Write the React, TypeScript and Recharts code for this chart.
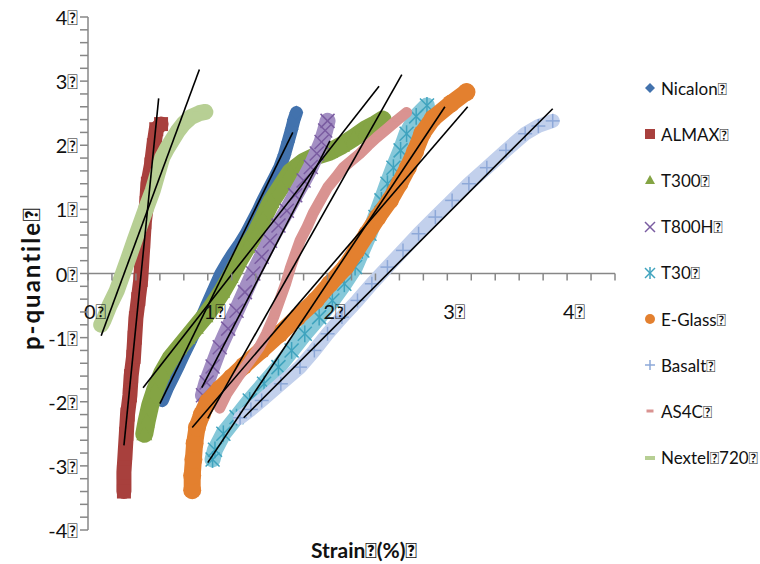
import React from 'react';
import { ScatterChart, Scatter, XAxis, YAxis, ReferenceLine } from 'recharts';

// chart box
const W = 760;
const H = 564;
const Y_AXIS_W = 40;
const X_AXIS_H = 30;
const M = { top: 17, right: 145, bottom: 4, left: 48 };
const PLOT_LEFT = M.left + Y_AXIS_W;
const PLOT_BOTTOM = H - M.bottom - X_AXIS_H;
const ZERO_Y = M.top + (PLOT_BOTTOM - M.top) / 2;
const AXIS = '#878787';
const FONT = 'Lato, "Open Sans", sans-serif';
const BOX = '\uF020';

type Pt = [number, number];

// series (strain %, p-quantile)
const nicalon: Pt[] = [
  [0.62, -1.98], [0.66, -1.8], [0.7, -1.65], [0.75, -1.46], [0.8, -1.26], [0.85, -1.07],
  [0.9, -0.87], [0.95, -0.68], [1.0, -0.46], [1.05, -0.25], [1.11, 0.0], [1.16, 0.16],
  [1.21, 0.31], [1.27, 0.47], [1.32, 0.62], [1.37, 0.8], [1.42, 0.98], [1.46, 1.14],
  [1.51, 1.32], [1.56, 1.5], [1.6, 1.65], [1.64, 1.85], [1.67, 2.05], [1.7, 2.25],
  [1.72, 2.4], [1.74, 2.51],
];
const almax: Pt[] = [
  [0.3, -3.4], [0.3, -3.1], [0.31, -2.8], [0.32, -2.5], [0.33, -2.2], [0.35, -1.9],
  [0.36, -1.6], [0.38, -1.3], [0.39, -1.0], [0.4, -0.7], [0.42, -0.4], [0.44, -0.1],
  [0.45, 0.2], [0.46, 0.5], [0.47, 0.8], [0.49, 1.1], [0.5, 1.4], [0.53, 1.7],
  [0.55, 2.0], [0.57, 2.25], [0.61, 2.33],
];
const t300: Pt[] = [
  [0.47, -2.5], [0.49, -2.3], [0.52, -2.05], [0.56, -1.82], [0.62, -1.55], [0.69, -1.32],
  [0.76, -1.16], [0.83, -1.0], [0.9, -0.84], [0.98, -0.66], [1.05, -0.48], [1.12, -0.28],
  [1.19, -0.05], [1.26, 0.2], [1.33, 0.42], [1.4, 0.62], [1.46, 0.85], [1.53, 1.12],
  [1.61, 1.35], [1.69, 1.58], [1.8, 1.74], [1.9, 1.83], [2.02, 1.9], [2.12, 2.0],
  [2.22, 2.12], [2.32, 2.25], [2.4, 2.33], [2.46, 2.4],
];
const t800h: Pt[] = [
  [0.96, -1.9], [0.99, -1.7], [1.04, -1.45], [1.1, -1.15], [1.17, -0.86], [1.24, -0.58],
  [1.31, -0.29], [1.38, 0.0], [1.45, 0.26], [1.52, 0.51], [1.59, 0.75], [1.66, 0.98],
  [1.73, 1.22], [1.8, 1.45], [1.86, 1.66], [1.91, 1.87], [1.95, 2.05], [1.98, 2.23],
  [2.0, 2.38],
];
const t30: Pt[] = [
  [1.04, -2.9], [1.06, -2.75], [1.13, -2.5], [1.24, -2.24], [1.35, -1.98], [1.47, -1.72],
  [1.59, -1.46], [1.7, -1.2], [1.81, -0.94], [1.93, -0.68], [2.04, -0.42], [2.14, -0.16],
  [2.23, 0.1], [2.29, 0.36], [2.35, 0.62], [2.4, 0.88], [2.45, 1.14], [2.5, 1.4],
  [2.55, 1.65], [2.61, 1.92], [2.66, 2.18], [2.74, 2.45], [2.83, 2.62],
];
const eGlass: Pt[] = [
  [0.87, -3.38], [0.87, -3.15], [0.88, -2.9], [0.89, -2.65], [0.91, -2.4], [0.95, -2.2],
  [1.0, -2.0], [1.1, -1.8], [1.2, -1.62], [1.3, -1.44], [1.45, -1.19], [1.6, -0.94],
  [1.75, -0.68], [1.9, -0.42], [2.02, -0.16], [2.15, 0.1], [2.24, 0.36], [2.33, 0.62],
  [2.42, 0.88], [2.52, 1.14], [2.6, 1.4], [2.67, 1.65], [2.73, 1.9], [2.79, 2.18],
  [2.88, 2.42], [3.03, 2.65], [3.16, 2.83],
];
const basalt: Pt[] = [
  [1.27, -2.25], [1.36, -2.12], [1.45, -1.98], [1.61, -1.72], [1.77, -1.46], [1.89, -1.2],
  [2.0, -0.94], [2.12, -0.68], [2.25, -0.42], [2.37, -0.16], [2.5, 0.1], [2.63, 0.36],
  [2.76, 0.62], [2.9, 0.88], [3.04, 1.14], [3.18, 1.4], [3.33, 1.65], [3.49, 1.92],
  [3.65, 2.18], [3.76, 2.3], [3.88, 2.38],
];
const as4c: Pt[] = [
  [1.1, -2.1], [1.16, -1.87], [1.25, -1.62], [1.35, -1.36], [1.43, -1.15], [1.49, -0.94],
  [1.55, -0.68], [1.6, -0.42], [1.65, -0.16], [1.69, 0.09], [1.73, 0.3], [1.77, 0.51],
  [1.83, 0.73], [1.88, 0.94], [1.94, 1.14], [2.0, 1.34], [2.07, 1.5], [2.13, 1.65],
  [2.2, 1.76], [2.27, 1.87], [2.34, 2.0], [2.41, 2.12], [2.5, 2.26], [2.58, 2.39],
  [2.66, 2.51],
];
const nextel: Pt[] = [
  [0.11, -0.8], [0.13, -0.73], [0.18, -0.5], [0.24, -0.27], [0.29, -0.01], [0.34, 0.25],
  [0.39, 0.52], [0.44, 0.78], [0.49, 1.04], [0.54, 1.29], [0.58, 1.55], [0.62, 1.81],
  [0.66, 1.95], [0.7, 2.07], [0.75, 2.22], [0.8, 2.34], [0.86, 2.44], [0.93, 2.5],
  [0.98, 2.52],
];

// linear fit lines, end points
const fitNicalon: Pt[] = [[0.6, -2.03], [1.71, 2.2]];
const fitAlmax: Pt[] = [[0.3, -2.68], [0.59, 2.73]];
const fitT300: Pt[] = [[0.46, -1.78], [2.43, 2.92]];
const fitT800h: Pt[] = [[0.95, -1.78], [2.02, 2.07]];
const fitT30: Pt[] = [[1.0, -2.95], [2.98, 2.6]];
const fitEGlass: Pt[] = [[0.87, -2.4], [3.17, 2.6]];
const fitBasalt: Pt[] = [[1.3, -2.25], [3.88, 2.57]];
const fitAs4c: Pt[] = [[1.0, -2.26], [2.62, 3.1]];
const fitNextel: Pt[] = [[0.11, -0.97], [0.93, 3.18]];

const xTicks = [0, 0.2, 0.4, 0.6, 0.8, 1, 1.2, 1.4, 1.6, 1.8, 2, 2.2, 2.4, 2.6, 2.8, 3, 3.2, 3.4, 3.6, 3.8, 4, 4.2, 4.4];
const xLabels = ['0', '1', '2', '3', '4'];
const yTicks = [
  -4, -3.8, -3.6, -3.4, -3.2, -3, -2.8, -2.6, -2.4, -2.2, -2, -1.8, -1.6, -1.4, -1.2, -1, -0.8, -0.6, -0.4, -0.2,
  0, 0.2, 0.4, 0.6, 0.8, 1, 1.2, 1.4, 1.6, 1.8, 2, 2.2, 2.4, 2.6, 2.8, 3, 3.2, 3.4, 3.6, 3.8, 4,
];
const yLabels = ['-4', '-3', '-2', '-1', '0', '1', '2', '3', '4'];

type Marker = 'diamond' | 'square' | 'triangle' | 'x' | 'star' | 'circle' | 'plus' | 'dash' | 'bar';

interface SeriesDef {
  name: string;
  data: Pt[];
  color: string;
  band: string;
  width: number;
  marker: Marker;
  size: number;
}

const series: SeriesDef[] = [
  { name: 'Nicalon', data: nicalon, color: '#4272AD', band: '#4272AD', width: 13, marker: 'diamond', size: 7 },
  { name: 'ALMAX', data: almax, color: '#A8403D', band: '#A8403D', width: 15, marker: 'square', size: 7 },
  { name: 'T300', data: t300, color: '#84A444', band: '#84A444', width: 18, marker: 'triangle', size: 8 },
  { name: 'T800H', data: t800h, color: '#7A5CA1', band: '#A38FC3', width: 16, marker: 'x', size: 7 },
  { name: 'T30', data: t30, color: '#3FA3BE', band: '#86C8D9', width: 16, marker: 'star', size: 7 },
  { name: 'E-Glass', data: eGlass, color: '#E3802F', band: '#E3802F', width: 17, marker: 'circle', size: 8 },
  { name: 'Basalt', data: basalt, color: '#8DA8D8', band: '#C2D0EC', width: 14, marker: 'plus', size: 7 },
  { name: 'AS4C', data: as4c, color: '#D99391', band: '#D99391', width: 11, marker: 'dash', size: 5 },
  { name: 'Nextel 720', data: nextel, color: '#B7CF94', band: '#B7CF94', width: 16, marker: 'bar', size: 7 },
];

const fits: Pt[][] = [fitNicalon, fitAlmax, fitT300, fitT800h, fitT30, fitEGlass, fitBasalt, fitAs4c, fitNextel];

const toXY = (d: Pt[]) => d.map(([x, y]) => ({ x, y }));

function MarkerGlyph({ kind, cx, cy, r, color }: { kind: Marker; cx: number; cy: number; r: number; color: string }) {
  switch (kind) {
    case 'diamond':
      return <polygon points={`${cx},${cy - r} ${cx + r},${cy} ${cx},${cy + r} ${cx - r},${cy}`} fill={color} />;
    case 'square':
      return <rect x={cx - r} y={cy - r} width={2 * r} height={2 * r} fill={color} />;
    case 'triangle':
      return <polygon points={`${cx},${cy - r} ${cx + r},${cy + r * 0.8} ${cx - r},${cy + r * 0.8}`} fill={color} />;
    case 'x':
      return (
        <g stroke={color} strokeWidth={1.5}>
          <line x1={cx - r} y1={cy - r} x2={cx + r} y2={cy + r} />
          <line x1={cx - r} y1={cy + r} x2={cx + r} y2={cy - r} />
        </g>
      );
    case 'star':
      return (
        <g stroke={color} strokeWidth={1.5}>
          <line x1={cx - r} y1={cy - r} x2={cx + r} y2={cy + r} />
          <line x1={cx - r} y1={cy + r} x2={cx + r} y2={cy - r} />
          <line x1={cx} y1={cy - r * 1.2} x2={cx} y2={cy + r * 1.2} />
        </g>
      );
    case 'circle':
      return <circle cx={cx} cy={cy} r={r} fill={color} />;
    case 'plus':
      return (
        <g stroke={color} strokeWidth={1.5}>
          <line x1={cx - r} y1={cy} x2={cx + r} y2={cy} />
          <line x1={cx} y1={cy - r} x2={cx} y2={cy + r} />
        </g>
      );
    case 'dash':
      return <rect x={cx - r} y={cy - 1.5} width={2 * r} height={3} fill={color} />;
    case 'bar':
    default:
      return <rect x={cx - r} y={cy - 2} width={2 * r} height={4} fill={color} />;
  }
}

const XTick = (props: any) => {
  const { x, payload } = props;
  const v: number = payload.value;
  const idx = xLabels.indexOf(String(v));
  return (
    <g>
      <line x1={x} x2={x} y1={ZERO_Y} y2={ZERO_Y + 7} stroke={AXIS} strokeWidth={1.5} />
      {idx >= 0 && (
        <text x={x + 7} y={ZERO_Y + 37} textAnchor="middle" dominantBaseline="central"
          fontFamily={FONT} fontSize={20} fill="#111">
          {xLabels[idx] + BOX}
        </text>
      )}
    </g>
  );
};

const YTick = (props: any) => {
  const { y, payload } = props;
  const v: number = payload.value;
  const idx = yLabels.indexOf(String(v));
  return (
    <g>
      <line x1={PLOT_LEFT - 8} x2={PLOT_LEFT} y1={y} y2={y} stroke={AXIS} strokeWidth={1.5} />
      {idx >= 0 && (
        <text x={PLOT_LEFT - 10} y={y} textAnchor="end" dominantBaseline="central"
          fontFamily={FONT} fontSize={20} fill="#111">
          {yLabels[idx] + BOX}
        </text>
      )}
    </g>
  );
};

const Legend = () => (
  <div style={{ position: 'absolute', left: 638, top: 65, fontFamily: FONT, fontSize: 17, color: '#111' }}>
    {series.map((s) => (
      <div key={s.name} style={{ display: 'flex', alignItems: 'center', height: 46.2 }}>
        <svg width={20} height={20} style={{ marginRight: 3 }}>
          <MarkerGlyph kind={s.marker} cx={12} cy={10} r={s.marker === 'dash' ? 3.5 : 5} color={s.color} />
        </svg>
        <span>{s.name.replace(' ', BOX) + BOX}</span>
      </div>
    ))}
  </div>
);

export default function App() {
  return (
    <div style={{ position: 'absolute', left: 0, top: 0, width: W, height: H, background: '#fff' }}>
      <ScatterChart width={W} height={H} margin={M}>
        <XAxis type="number" dataKey="x" domain={[0, 4.4]} ticks={xTicks} height={X_AXIS_H}
          axisLine={false} tickLine={false} tick={<XTick />} interval={0} allowDataOverflow />
        <YAxis type="number" dataKey="y" domain={[-4, 4]} ticks={yTicks} width={Y_AXIS_W}
          axisLine={{ stroke: AXIS, strokeWidth: 1.5 }} tickLine={false} tick={<YTick />} interval={0} allowDataOverflow />
        <ReferenceLine y={0} stroke={AXIS} strokeWidth={1.5} />
        {series.map((s) => (
          <Scatter
            key={s.name}
            name={s.name}
            data={toXY(s.data)}
            isAnimationActive={false}
            line={{ stroke: s.band, strokeWidth: s.width, strokeLinecap: 'round', strokeLinejoin: 'round' } as any}
            lineJointType="linear"
            shape={(p: any) => (
              <MarkerGlyph kind={s.marker} cx={p.cx} cy={p.cy}
                r={s.name === 'E-Glass' && p.y > 2.6 ? 9 : s.size} color={s.color} />
            )}
          />
        ))}
        {fits.map((f, i) => (
          <Scatter
            key={'fit' + i}
            data={toXY(f)}
            isAnimationActive={false}
            line={{ stroke: '#000', strokeWidth: 1.6 }}
            lineJointType="linear"
            shape={() => <g />}
          />
        ))}
        <text x={30} y={278} transform="rotate(-90 30 278)" textAnchor="middle" dominantBaseline="central"
          fontFamily={FONT} fontSize={24} fontWeight={700} letterSpacing={2} fill="#111">
          {'p-quantile' + BOX}
        </text>
        <text x={364} y={549} textAnchor="middle" dominantBaseline="central"
          fontFamily={FONT} fontSize={21} fontWeight={700} fill="#111">
          {'Strain' + BOX + '(%)' + BOX}
        </text>
      </ScatterChart>
      <Legend />
    </div>
  );
}
